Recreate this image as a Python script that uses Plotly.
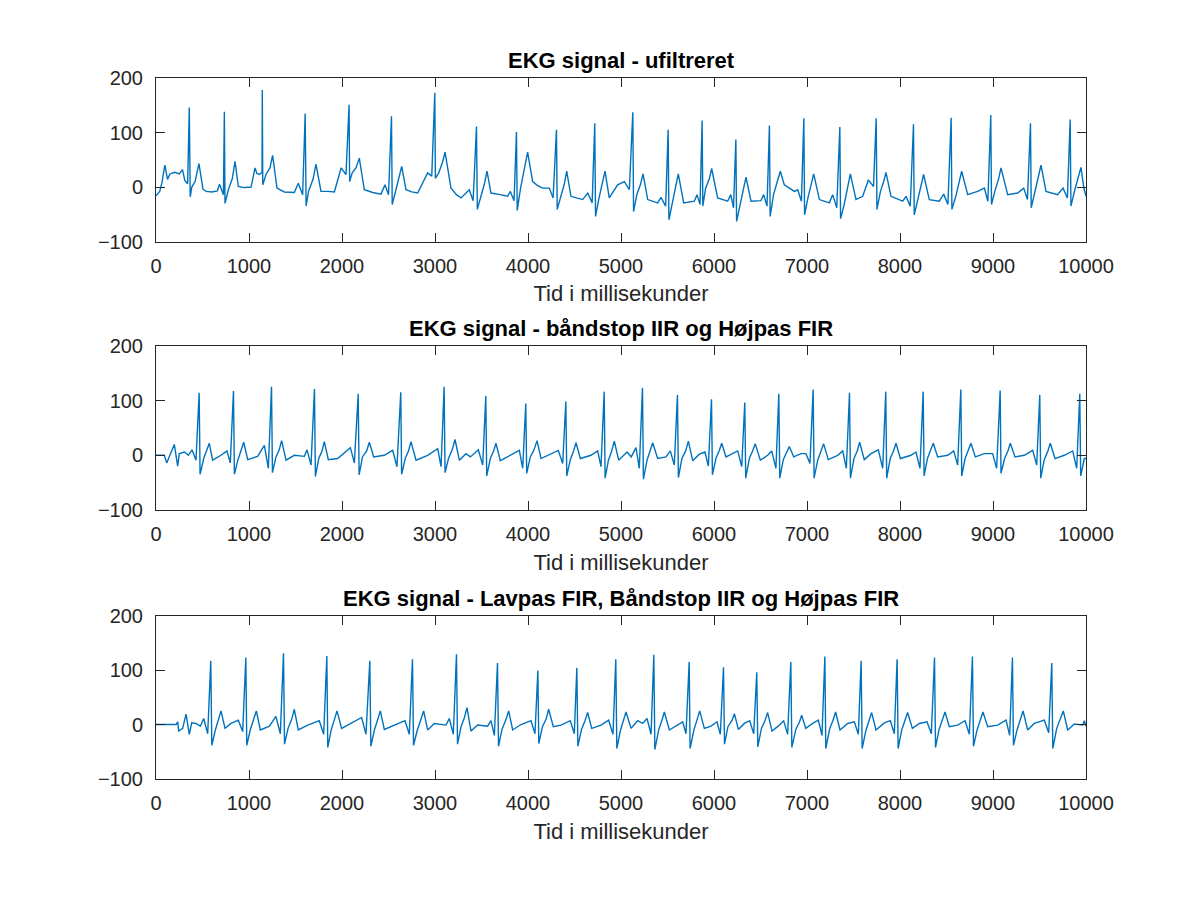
"""
Three-panel EKG plot: raw signal, band-stop IIR + high-pass FIR, and
low-pass FIR + band-stop IIR + high-pass FIR.  Values read off the figure.
"""

import plotly.graph_objects as go

# ── data: (time in ms, amplitude) ────────────────────────────────────────────

ekg_raw = [
    (0, -16), (40, -8), (64, 8), (95, 40), (124, 14), (150, 24), (200, 27), (250, 24),
    (285, 32), (310, 12), (340, 6), (358, 146), (368, -18), (385, 0), (420, 10), (462, 43),
    (505, -4), (540, -8), (600, -9), (660, -7), (683, 5), (700, -4), (725, -14), (735, 138),
    (742, -30), (778, -5), (820, 15), (850, 47), (885, 1), (950, -1), (1022, 0), (1065, 35),
    (1085, 25), (1115, 23), (1140, 27), (1143, 178), (1148, 4), (1183, 23), (1225, 35),
    (1254, 58), (1301, -2), (1380, -9), (1487, -10), (1530, 7), (1577, -14), (1604, 135),
    (1614, -35), (1640, -8), (1690, 15), (1720, 42), (1774, -8), (1850, -8), (1918, -9),
    (1990, 35), (2043, 23), (2076, 151), (2082, 10), (2110, 26), (2150, 35), (2186, 53),
    (2240, -5), (2330, -10), (2419, -13), (2462, 4), (2500, -14), (2532, 130), (2540, -32),
    (2580, -5), (2620, 20), (2642, 38), (2688, -5), (2750, -9), (2814, -11), (2921, 26),
    (2965, 20), (2998, 173), (3004, 16), (3040, 26), (3080, 45), (3108, 64), (3172, -2),
    (3230, -14), (3280, -20), (3369, -5), (3410, -25), (3446, 111), (3455, -41), (3490, -20),
    (3530, 5), (3559, 29), (3602, -11), (3700, -14), (3781, -17), (3810, -8), (3850, -25),
    (3876, 101), (3884, -43), (3920, -2), (3960, 30), (3996, 64), (4050, 10), (4100, 3),
    (4158, -2), (4229, -2), (4270, -20), (4306, 105), (4314, -41), (4350, -17), (4390, 5),
    (4416, 29), (4462, -17), (4520, -20), (4588, -23), (4642, -11), (4690, -29), (4718, 117),
    (4726, -54), (4760, -23), (4800, 5), (4828, 29), (4874, -20), (4964, 4), (5036, 10),
    (5090, -5), (5127, 137), (5135, -45), (5170, -14), (5210, 5), (5237, 24), (5287, -23),
    (5394, -29), (5430, -19), (5480, -35), (5507, 105), (5515, -60), (5550, -29), (5590, 0),
    (5616, 24), (5674, -29), (5789, -26), (5817, -14), (5850, -32), (5872, 122), (5880, -35),
    (5910, -2), (5950, 15), (5975, 34), (6039, -20), (6147, -26), (6180, -14), (6210, -38),
    (6235, 87), (6243, -63), (6280, -32), (6320, 0), (6344, 18), (6398, -26), (6505, -25),
    (6534, -14), (6570, -35), (6596, 113), (6604, -54), (6640, -14), (6680, 10), (6713, 29),
    (6756, 4), (6864, -8), (6900, -5), (6940, -26), (6966, 126), (6974, -51), (7010, -20),
    (7045, 5), (7072, 24), (7133, -23), (7240, -29), (7276, -14), (7320, -38), (7353, 110),
    (7361, -58), (7400, -32), (7440, 0), (7466, 24), (7527, -23), (7599, -17), (7660, 13),
    (7715, 1), (7744, 126), (7752, -41), (7790, -8), (7825, 10), (7849, 27), (7903, -17),
    (8029, -26), (8065, -17), (8110, -35), (8145, 115), (8153, -51), (8190, -23), (8230, 3),
    (8254, 23), (8315, -23), (8423, -26), (8470, -13), (8515, -32), (8550, 127), (8558, -41),
    (8600, -17), (8640, 10), (8663, 29), (8728, -14), (8835, -8), (8907, -2), (8945, -26),
    (8976, 132), (8984, -32), (9020, -8), (9060, 15), (9086, 35), (9158, -14), (9265, -11),
    (9330, -2), (9370, -23), (9403, 117), (9411, -38), (9450, -8), (9490, 20), (9516, 40),
    (9570, -8), (9695, -14), (9753, -2), (9800, -20), (9830, 124), (9838, -35), (9880, -5),
    (9920, 20), (9946, 36), (9975, 0), (10000, -17),
]

ekg_bs_hp = [
    (0, 0), (89, 0), (115, -14), (140, -3), (197, 20), (233, -20), (251, 3), (305, 6),
    (348, 0), (387, 10), (430, -9), (464, 115), (474, -35), (513, -6), (545, 8), (573, 22),
    (609, -9), (699, 0), (763, 8), (799, -14), (833, 118), (843, -35), (880, -9), (915, 8),
    (943, 24), (986, -8), (1093, -2), (1165, 18), (1208, -24), (1242, 126), (1252, -32),
    (1290, -3), (1325, 10), (1351, 27), (1398, -9), (1487, 0), (1595, -2), (1624, 10),
    (1667, -18), (1704, 122), (1714, -39), (1750, -6), (1785, 8), (1810, 25), (1853, -8),
    (1953, -6), (2090, 14), (2133, -14), (2174, 113), (2184, -36), (2220, -3), (2265, 8),
    (2294, 24), (2341, -3), (2455, 0), (2545, 9), (2591, -21), (2632, 116), (2641, -35),
    (2680, -6), (2715, 8), (2742, 25), (2796, -9), (2921, 0), (3029, 12), (3065, -21),
    (3098, 126), (3108, -32), (3145, -6), (3185, 10), (3215, 29), (3262, -9), (3333, 3),
    (3380, -3), (3466, 10), (3513, -18), (3546, 109), (3556, -38), (3595, -6), (3630, 8),
    (3656, 22), (3702, -10), (3817, 0), (3907, 9), (3943, -24), (3976, 95), (3986, -33),
    (4025, -3), (4065, 10), (4097, 27), (4140, -6), (4247, 3), (4326, 9), (4373, -15),
    (4407, 99), (4417, -38), (4455, -8), (4490, 8), (4516, 23), (4563, -6), (4677, 0),
    (4749, 8), (4785, -21), (4819, 117), (4829, -42), (4865, -9), (4900, 8), (4928, 26),
    (4975, -9), (5065, 6), (5110, -3), (5161, 14), (5197, -24), (5231, 124), (5241, -44),
    (5280, -9), (5315, 8), (5341, 23), (5394, -6), (5484, -3), (5530, 8), (5573, -18),
    (5607, 111), (5617, -41), (5655, -6), (5695, 8), (5724, 26), (5771, -10), (5842, 2),
    (5903, 6), (5939, -20), (5973, 103), (5983, -36), (6020, -6), (6055, 8), (6083, 22),
    (6129, -3), (6255, 8), (6298, -21), (6331, 97), (6341, -42), (6380, -6), (6415, 8),
    (6444, 21), (6498, -9), (6577, 0), (6620, 8), (6666, -24), (6697, 113), (6707, -42),
    (6745, -8), (6780, 5), (6810, 16), (6857, -3), (6935, 3), (6989, 3), (7032, -15),
    (7066, 121), (7076, -42), (7115, -9), (7150, 8), (7179, 21), (7229, -8), (7330, 0),
    (7384, 8), (7423, -24), (7457, 115), (7467, -42), (7505, -6), (7540, 8), (7566, 24),
    (7616, -8), (7688, 3), (7767, 10), (7814, -24), (7847, 117), (7857, -42), (7895, -6),
    (7930, 8), (7957, 22), (8004, -6), (8118, 0), (8172, 6), (8215, -24), (8249, 117),
    (8259, -38), (8295, -6), (8330, 8), (8358, 22), (8405, -3), (8513, 0), (8577, 8),
    (8620, -18), (8654, 121), (8664, -38), (8700, -6), (8735, 8), (8763, 22), (8810, -3),
    (8907, 3), (8996, 3), (9039, -24), (9077, 119), (9086, -33), (9125, -6), (9160, 8),
    (9186, 22), (9237, -3), (9337, 0), (9427, 9), (9470, -18), (9503, 111), (9513, -42),
    (9550, -9), (9590, 8), (9616, 22), (9667, -6), (9767, 0), (9857, 8), (9900, -24),
    (9933, 113), (9943, -38), (9982, -6), (10000, -6),
]

ekg_lp_bs_hp = [
    (0, 0), (215, 0), (233, 5), (244, -12), (287, -7), (323, 19), (358, -18), (384, 3),
    (430, 2), (477, -3), (513, 11), (556, -17), (589, 117), (600, -38), (640, -9), (675, 10),
    (699, 25), (742, -7), (806, 2), (885, 8), (932, -13), (966, 123), (976, -38), (1015, -9),
    (1050, 10), (1079, 25), (1122, -10), (1219, -3), (1290, 15), (1337, -17), (1371, 131),
    (1382, -36), (1420, -7), (1460, 10), (1487, 28), (1530, -10), (1631, -1), (1756, 7),
    (1803, -18), (1837, 126), (1847, -42), (1885, -9), (1920, 10), (1946, 25), (1996, -7),
    (2097, 2), (2211, 13), (2258, -18), (2299, 117), (2310, -40), (2350, -9), (2385, 10),
    (2412, 25), (2455, -9), (2581, 0), (2677, 7), (2724, -18), (2758, 120), (2769, -38),
    (2810, -10), (2850, 10), (2878, 25), (2921, -10), (2993, 2), (3118, -1), (3154, 11),
    (3197, -18), (3231, 129), (3242, -36), (3280, -4), (3315, 12), (3344, 31), (3387, -12),
    (3459, -1), (3566, -3), (3602, 7), (3638, -20), (3672, 113), (3683, -40), (3720, -9),
    (3765, 10), (3792, 25), (3835, -10), (3925, 0), (4032, 7), (4075, -17), (4106, 99),
    (4116, -35), (4155, -4), (4195, 10), (4222, 28), (4272, -4), (4355, -1), (4455, 7),
    (4498, -17), (4525, 104), (4536, -40), (4575, -9), (4615, 8), (4641, 22), (4685, -7),
    (4785, -1), (4867, 8), (4914, -18), (4944, 120), (4955, -44), (4995, -10), (5030, 8),
    (5054, 23), (5108, -7), (5179, 7), (5233, 2), (5280, 11), (5323, -18), (5353, 128),
    (5364, -46), (5405, -10), (5440, 8), (5466, 23), (5520, -10), (5602, -1), (5663, 5),
    (5699, -17), (5733, 115), (5743, -44), (5785, -9), (5820, 10), (5846, 25), (5896, -7),
    (5968, -3), (6032, 5), (6068, -18), (6102, 105), (6113, -36), (6150, -4), (6195, 8),
    (6219, 20), (6262, -9), (6326, 2), (6384, 7), (6427, -17), (6460, 96), (6471, -41),
    (6510, -7), (6550, 8), (6577, 22), (6624, -12), (6690, -3), (6749, 7), (6792, -18),
    (6826, 115), (6837, -42), (6880, -9), (6920, 5), (6943, 17), (6986, -7), (7061, 2),
    (7122, 8), (7161, -20), (7192, 125), (7202, -44), (7245, -7), (7280, 8), (7308, 23),
    (7355, -10), (7437, 2), (7509, 5), (7552, -18), (7582, 117), (7593, -44), (7635, -10),
    (7670, 8), (7695, 22), (7742, -10), (7832, 3), (7896, 7), (7939, -17), (7969, 120),
    (7980, -44), (8020, -9), (8055, 8), (8082, 22), (8133, -7), (8208, 2), (8290, 5),
    (8337, -17), (8371, 123), (8382, -42), (8420, -9), (8458, 8), (8484, 23), (8530, -4),
    (8620, -1), (8699, 7), (8746, -18), (8779, 125), (8790, -40), (8830, -9), (8865, 8),
    (8892, 23), (8943, -4), (9050, -1), (9140, 8), (9179, -20), (9209, 123), (9220, -38),
    (9260, -9), (9297, 10), (9323, 25), (9373, -10), (9444, 2), (9552, 8), (9599, -15),
    (9632, 113), (9643, -44), (9685, -7), (9725, 10), (9756, 25), (9803, -10), (9875, 1),
    (9964, -1), (9982, 7), (10000, -3),
]

titles = [
    "EKG signal - ufiltreret",
    "EKG signal - båndstop IIR og Højpas FIR",
    "EKG signal - Lavpas FIR, Båndstop IIR og Højpas FIR",
]
x_label = "Tid i millisekunder"
x_ticks = [0, 1000, 2000, 3000, 4000, 5000, 6000, 7000, 8000, 9000, 10000]
x_tick_text = ["0", "1000", "2000", "3000", "4000", "5000",
               "6000", "7000", "8000", "9000", "10000"]
y_ticks = [-100, 0, 100, 200]

# ── style ────────────────────────────────────────────────────────────────────

LINE = "#0072BD"
AXIS = "#262626"
FONT = "Liberation Sans, Arial, sans-serif"

# y-domains (paper coords) that put the three boxes where MATLAB's subplot does
domains = [[0.7667, 1.0], [0.3842, 0.6170], [0.0, 0.2331]]

fig = go.Figure()

for i, pts in enumerate([ekg_raw, ekg_bs_hp, ekg_lp_bs_hp]):
    t, v = zip(*pts)
    n = "" if i == 0 else str(i + 1)
    fig.add_trace(go.Scatter(
        x=list(t), y=list(v),
        mode="lines",
        line=dict(color=LINE, width=1.4),
        xaxis="x" + n, yaxis="y" + n,
        showlegend=False,
    ))

    common = dict(
        showline=True, linecolor=AXIS, linewidth=1, mirror="ticks",
        ticks="inside", ticklen=9, tickcolor=AXIS, tickwidth=1,
        showgrid=False, zeroline=False, automargin=False,
        tickfont=dict(size=20, color=AXIS, family=FONT),
    )
    fig.layout["xaxis" + n] = dict(
        common,
        domain=[0, 1],
        anchor="y" + n,
        range=[0, 10000],
        tickvals=x_ticks,
        ticktext=x_tick_text,
        ticklabelstandoff=6,
        title=dict(text=x_label, standoff=10,
                   font=dict(size=22, color=AXIS, family=FONT)),
    )
    fig.layout["yaxis" + n] = dict(
        common,
        domain=domains[i],
        anchor="x" + n,
        range=[-100, 200],
        tickvals=y_ticks,
        ticklabelstandoff=8,
    )

    fig.add_annotation(
        text="<b>" + titles[i] + "</b>",
        xref="paper", yref="paper",
        x=0.5, y=domains[i][1],
        xanchor="center", yanchor="bottom",
        yshift=3,
        showarrow=False,
        font=dict(size=22, color="#000000", family=FONT),
    )

# the page adds an 8 px body margin, so the margins are trimmed to match
fig.update_layout(
    width=1200, height=900,
    paper_bgcolor="#ffffff",
    plot_bgcolor="#ffffff",
    margin=dict(l=148, r=122, t=70, b=129, autoexpand=False),
    font=dict(family=FONT, color=AXIS),
)

fig.write_html("out.html")
